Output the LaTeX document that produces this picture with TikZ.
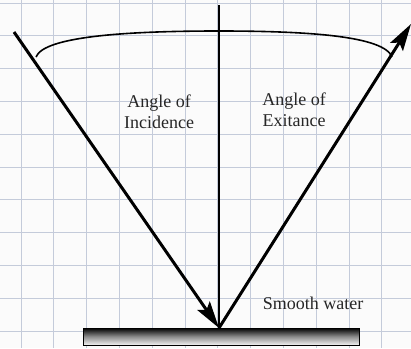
\documentclass[tikz,border=0pt]{standalone}
\usepackage{fontspec}
\setmainfont{Liberation Serif}
\usetikzlibrary{arrows.meta,positioning}
\definecolor{gridblue}{RGB}{196,203,218}

\begin{document}
\begin{tikzpicture}[
    x=1pt, y=-1pt,
    gridline/.style={draw=gridblue, line width=1pt},
    ray/.style={line width=3pt, -{Stealth[length=27pt, width=15pt, inset=5pt]}},
    normal/.style={line width=1.4pt},
    label/.style={font=\fontsize{18}{21}\selectfont, align=center, text=black!85, inner sep=0pt}
]
\useasboundingbox (0,0) rectangle (411,348);
\fill[white!97!gray] (0,0) rectangle (411,348);

% graph paper
\foreach \i in {0,...,11}
  \draw[gridline] (21+32.8*\i,0) -- ++(0,348);
\foreach \j in {0,...,10}
  \draw[gridline] (0,3+32.8*\j) -- ++(411,0);

% points
\coordinate (hit) at (219,328);
\coordinate (src) at (14,32);
\coordinate (dst) at (411,24);
\coordinate (ntop) at (219,5);
\coordinate (arcL) at (36,57);
\coordinate (arcR) at (392,57);
\coordinate (arcT) at (219,31);

% water surface
\shade[top color=black, bottom color=white!90!gray, middle color=black!45]
  (83,328) rectangle (359,345);
\draw[line width=1pt] (83,328) rectangle (359,345);

% normal and arc
\draw[normal] (ntop) -- (hit);
\draw[line width=1.6pt] (arcL) .. controls (44,36) and (130,31) .. (arcT)
  .. controls (308,31) and (384,36) .. (arcR);

% rays
\draw[ray] (src) -- (hit);
\draw[ray] (hit) -- (dst);

% labels
\node[label] (inc) at (159,112) {Angle of\\Incidence};
\node[label] (exi) at (294,110) {Angle of\\Exitance};
\node[label] (water) at (313,303) {Smooth water};
\end{tikzpicture}
\end{document}
